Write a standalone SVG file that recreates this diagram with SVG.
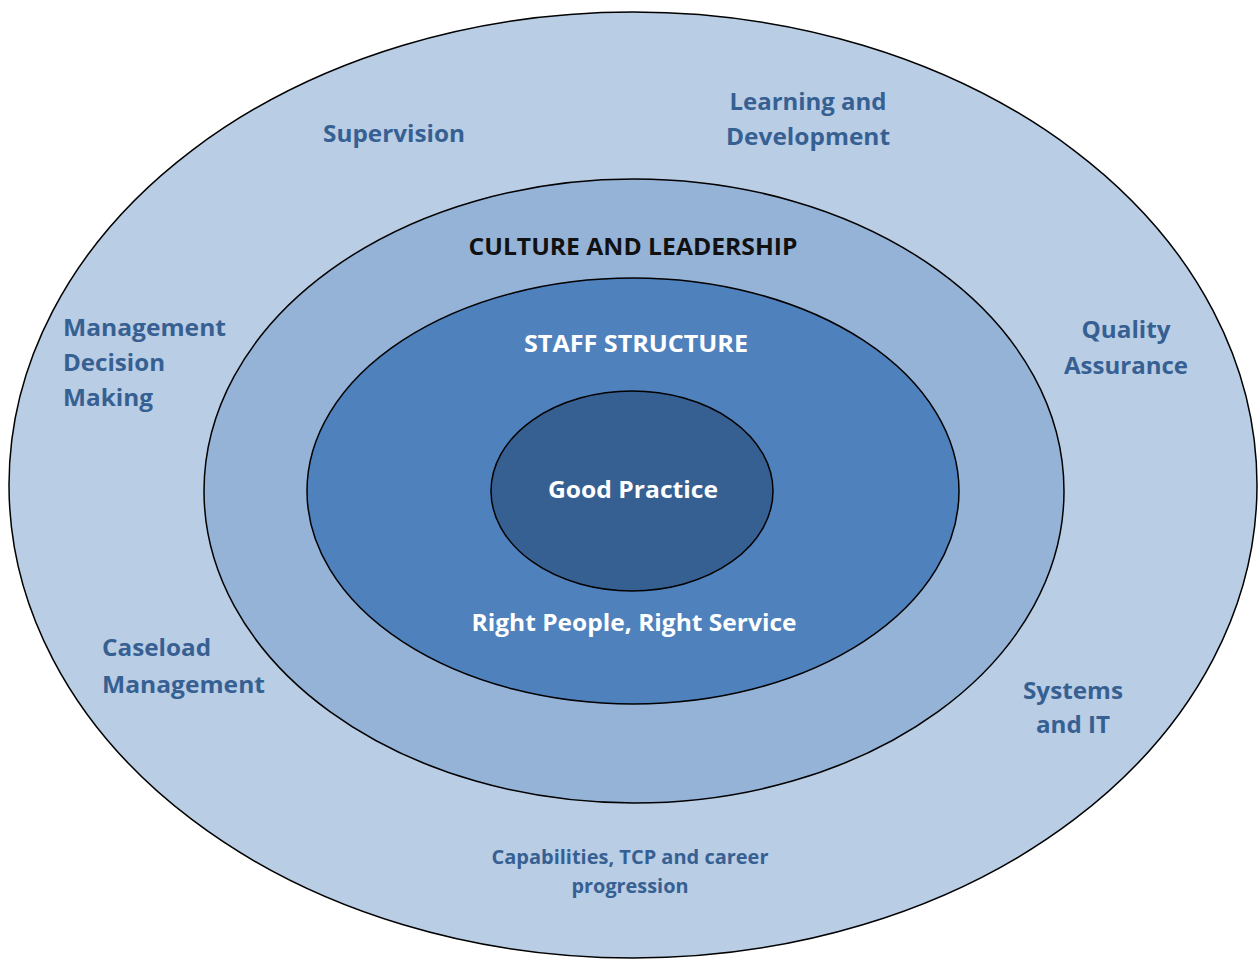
<svg xmlns="http://www.w3.org/2000/svg" width="1260" height="959" viewBox="0 0 1260 959">
<style>
.ring{stroke:#000;stroke-width:1.5}
.t{font-family:"Open Sans","Liberation Sans",sans-serif;font-weight:700;font-size:23px;fill:#376092}
.c{text-anchor:middle}
.w{fill:#fff}
.k{fill:#111}
.s{font-size:19px}
</style>
<rect width="1260" height="959" fill="#fff"/>
<g id="outer">
<ellipse class="ring" cx="633" cy="485" rx="624" ry="473" fill="#B9CDE5"/>
<text class="t c" x="394" y="142" textLength="142" lengthAdjust="spacingAndGlyphs">Supervision</text>
<text class="t c" x="808" y="110" textLength="157" lengthAdjust="spacingAndGlyphs">Learning and</text>
<text class="t c" x="808" y="145" textLength="164" lengthAdjust="spacingAndGlyphs">Development</text>
<text class="t" x="63" y="336" textLength="163" lengthAdjust="spacingAndGlyphs">Management</text>
<text class="t" x="63" y="371" textLength="102" lengthAdjust="spacingAndGlyphs">Decision</text>
<text class="t" x="63" y="406" textLength="90" lengthAdjust="spacingAndGlyphs">Making</text>
<text class="t c" x="1126" y="338" textLength="89" lengthAdjust="spacingAndGlyphs">Quality</text>
<text class="t c" x="1126" y="374" textLength="124" lengthAdjust="spacingAndGlyphs">Assurance</text>
<text class="t" x="102" y="656" textLength="109" lengthAdjust="spacingAndGlyphs">Caseload</text>
<text class="t" x="102" y="693" textLength="163" lengthAdjust="spacingAndGlyphs">Management</text>
<text class="t c" x="1073" y="699" textLength="100" lengthAdjust="spacingAndGlyphs">Systems</text>
<text class="t c" x="1073" y="733" textLength="74" lengthAdjust="spacingAndGlyphs">and IT</text>
<text class="t c s" x="630" y="864" textLength="277" lengthAdjust="spacingAndGlyphs">Capabilities, TCP and career</text>
<text class="t c s" x="630" y="893" textLength="117" lengthAdjust="spacingAndGlyphs">progression</text>
</g>
<g id="culture">
<ellipse class="ring" cx="634" cy="491" rx="430" ry="312" fill="#95B3D7"/>
<text class="t c k" x="633" y="255" textLength="329" lengthAdjust="spacingAndGlyphs">CULTURE AND LEADERSHIP</text>
</g>
<g id="staff">
<ellipse class="ring" cx="633" cy="491" rx="326" ry="213" fill="#4F81BD"/>
<text class="t c w" x="636" y="352" textLength="224" lengthAdjust="spacingAndGlyphs">STAFF STRUCTURE</text>
<text class="t c w" x="634" y="631" textLength="325" lengthAdjust="spacingAndGlyphs">Right People, Right Service</text>
</g>
<g id="good">
<ellipse class="ring" cx="632" cy="491" rx="141" ry="100" fill="#366092"/>
<text class="t c w" x="633" y="498" textLength="170" lengthAdjust="spacingAndGlyphs">Good Practice</text>
</g>
<g id="connectors"></g>
</svg>
